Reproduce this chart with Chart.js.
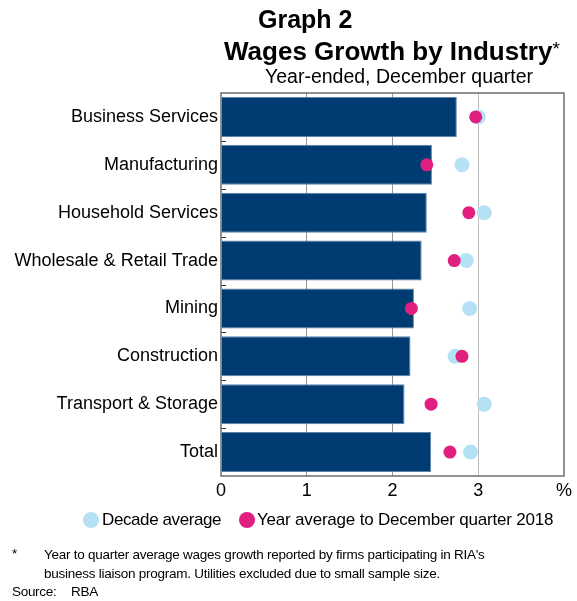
<!DOCTYPE html>
<html>
<head>
<meta charset="utf-8">
<script src="https://cdn.jsdelivr.net/npm/chart.js@4.4.1/dist/chart.umd.min.js"></script>
<style>
  html, body { margin: 0; padding: 0; background: #fff; }
  #wrap { position: relative; width: 577px; height: 601px; overflow: hidden; font-family: "Liberation Sans", Arial, sans-serif; color: #000; }
  #wrap canvas { position: absolute; left: 0; top: 0; }
  .t { position: absolute; white-space: nowrap; }
  .dot { position: absolute; border-radius: 50%; }
</style>
</head>
<body>
<div id="wrap">
  <canvas id="c" width="577" height="601"></canvas>
  <div class="t" style="left:258px; top:4px; font-size:25px; font-weight:bold; line-height:30px;">Graph 2</div>
  <div class="t" style="left:224px; top:34px; font-size:26px; font-weight:bold; line-height:30px;">Wages Growth by Industry<span style="font-weight:normal; font-size:19px; vertical-align:5px;">*</span></div>
  <div class="t" style="left:265px; top:64px; font-size:19.5px; line-height:24px;">Year-ended, December quarter</div>

  <div class="dot" style="left:83px; top:512px; width:16px; height:16px; background:#B4E1F4;"></div>
  <div class="t" style="left:102px; top:509px; font-size:17px; line-height:22px; letter-spacing:-0.4px;">Decade average</div>
  <div class="dot" style="left:239px; top:512px; width:16px; height:16px; background:#E01F7F;"></div>
  <div class="t" style="left:257px; top:509px; font-size:17px; line-height:22px; letter-spacing:-0.2px;">Year average to December quarter 2018</div>

  <div class="t" style="left:12px; top:545px; font-size:13.5px; line-height:18px;">*</div>
  <div class="t" style="left:44px; top:545px; font-size:13.5px; line-height:19px; letter-spacing:-0.25px;">Year to quarter average wages growth reported by firms participating in RIA's<br>business liaison program. Utilities excluded due to small sample size.</div>
  <div class="t" style="left:12px; top:583px; font-size:13.5px; line-height:18px; letter-spacing:-0.3px;">Source:</div>
  <div class="t" style="left:71px; top:583px; font-size:13.5px; line-height:18px; letter-spacing:-0.3px;">RBA</div>
</div>
<script>
// Industries, top to bottom
const industries = [
  "Business Services",
  "Manufacturing",
  "Household Services",
  "Wholesale & Retail Trade",
  "Mining",
  "Construction",
  "Transport & Storage",
  "Total"
];
// Year-ended wages growth, December quarter (%)
const yearEnded = [2.75, 2.46, 2.40, 2.34, 2.25, 2.21, 2.14, 2.45];
// Decade average (%)
const decadeAverage = [3.00, 2.81, 3.07, 2.86, 2.90, 2.73, 3.07, 2.91];
// Year average to December quarter 2018 (%)
const yearAverage2018 = [2.97, 2.40, 2.89, 2.72, 2.22, 2.81, 2.45, 2.67];
// Value axis tick labels
const xTickLabels = { 0: "0", 1: "1", 2: "2", 3: "3", 4: "%" };

const frame = {
  id: "frame",
  afterDatasetsDraw(chart) {
    const { ctx, chartArea: a, scales } = chart;
    const y = scales.y;
    ctx.save();
    // short inward ticks between categories
    ctx.strokeStyle = "#333";
    ctx.lineWidth = 1;
    for (let i = 0; i < industries.length - 1; i++) {
      const py = Math.round((y.getPixelForValue(i) + y.getPixelForValue(i + 1)) / 2) + 0.5;
      ctx.beginPath();
      ctx.moveTo(a.left, py);
      ctx.lineTo(a.left + 5, py);
      ctx.stroke();
    }
    // plot frame
    ctx.strokeStyle = "#6e6e6e";
    ctx.lineWidth = 1.5;
    ctx.strokeRect(a.left, a.top, a.right - a.left, a.bottom - a.top);
    ctx.restore();
  }
};

new Chart(document.getElementById("c"), {
  type: "bar",
  data: {
    labels: industries,
    datasets: [
      {
        type: "line",
        label: "Year average to December quarter 2018",
        data: yearAverage2018,
        indexAxis: "y",
        showLine: false,
        pointRadius: 6.5,
        pointBackgroundColor: "#E01F7F",
        pointBorderWidth: 0,
        order: 1
      },
      {
        type: "line",
        label: "Decade average",
        data: decadeAverage,
        indexAxis: "y",
        showLine: false,
        pointRadius: 7.5,
        pointBackgroundColor: "#B4E1F4",
        pointBorderWidth: 0,
        order: 2
      },
      {
        type: "bar",
        label: "Year-ended",
        data: yearEnded,
        backgroundColor: "#003B71",
        borderColor: "#5d83ab",
        borderWidth: 1,
        barPercentage: 0.835,
        categoryPercentage: 1,
        order: 3
      }
    ]
  },
  options: {
    indexAxis: "y",
    responsive: false,
    animation: false,
    events: [],
    layout: { padding: { left: 0, top: 93, right: 13, bottom: 95 } },
    plugins: { legend: { display: false }, tooltip: { enabled: false }, title: { display: false } },
    scales: {
      x: {
        type: "linear",
        min: 0,
        max: 4,
        afterFit(s) { s.height = 30; },
        ticks: {
          stepSize: 1,
          padding: 4,
          color: "#000",
          font: { family: "'Liberation Sans', Arial, sans-serif", size: 18 },
          callback: (v) => xTickLabels[v]
        },
        grid: {
          drawTicks: false,
          color: (c) => {
            const v = c.tick && c.tick.value;
            if (v === 3) return "#bdbdbd";
            if (v === 1 || v === 2) return "#959595";
            return "rgba(0,0,0,0)";
          },
          lineWidth: 1
        },
        border: { display: false }
      },
      y: {
        type: "category",
        offset: true,
        afterFit(s) { s.width = 221; },
        ticks: {
          padding: 3,
          color: "#000",
          font: { family: "'Liberation Sans', Arial, sans-serif", size: 18 }
        },
        grid: { display: false, drawTicks: false },
        border: { display: false }
      }
    }
  },
  plugins: [frame]
});
</script>
</body>
</html>
